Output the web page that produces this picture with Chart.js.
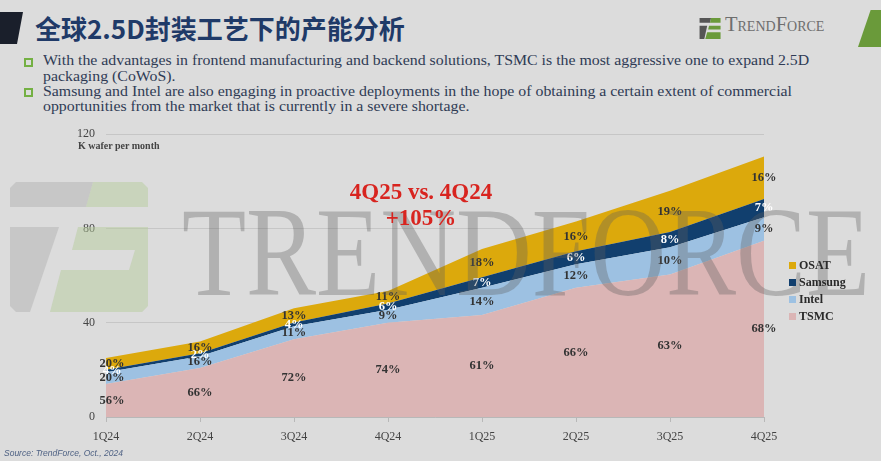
<!DOCTYPE html>
<html>
<head>
<meta charset="utf-8">
<script src="https://cdn.jsdelivr.net/npm/chart.js"></script>
<style>
html, body { margin: 0; padding: 0; }
body { width: 881px; height: 461px; background: #dcdcdc; position: relative; overflow: hidden; font-family: "Liberation Serif", serif; }
#bar { position: absolute; left: 0; top: 12px; width: 23px; height: 32px; background: #1a1f2b; clip-path: polygon(0 0, 100% 0, 74% 100%, 0 100%); }
#corner { position: absolute; left: 858px; top: 10px; width: 23px; height: 37px; background: #6a9a3a; clip-path: polygon(55% 0, 100% 0, 100% 100%, 0 100%); }
#title { position: absolute; left: 35px; top: 9px; font-family: "Noto Sans CJK SC", sans-serif; font-weight: bold; font-size: 26px; color: #1f3a68; line-height: 38px; white-space: nowrap; }
#logo { position: absolute; left: 699px; top: 18px; }
#logoText { position: absolute; left: 725px; top: 13px; font-size: 20.5px; color: #6e6e6e; font-variant: small-caps; white-space: nowrap; }
.bl { position: absolute; left: 24px; width: 5px; height: 5px; border: 2px solid #74b043; }
.bt { position: absolute; left: 43px; font-size: 14.3px; color: #2f3b55; line-height: 15.6px; white-space: nowrap; transform-origin: 0 0; }
#wrap { position: absolute; left: 0; top: 116px; width: 881px; height: 334px; }
#unit { position: absolute; left: 78px; top: 140px; font-size: 10px; color: #444; font-weight: bold; white-space: nowrap; }
#note { position: absolute; left: 300px; top: 179px; width: 242px; text-align: center; font-weight: bold; font-size: 23px; color: #d8241f; line-height: 26px; }
#legend { position: absolute; left: 789px; top: 258px; }
.lg { height: 17px; font-size: 12px; font-weight: bold; color: #2a2a2a; white-space: nowrap; }
.lg span { display: inline-block; width: 7px; height: 7px; margin-right: 3px; vertical-align: 0px; }
#source { position: absolute; left: 4px; top: 448px; font-family: "Liberation Sans", sans-serif; font-style: italic; font-size: 8.5px; color: #4f6284; white-space: nowrap; }
</style>
</head>
<body>
<div id="bar"></div>
<div id="corner"></div>
<div id="title">全球2.5D封装工艺下的产能分析</div>
<svg id="logo" width="24" height="21" viewBox="0 0 24 22">
  <polygon points="0,0 12,0 11,5 0,5" fill="#555"/>
  <polygon points="12,0 22,0 22,5 11,5" fill="#6a9a3a"/>
  <polygon points="0,8 8,8 5,22 0,22" fill="#555"/>
  <polygon points="10,8 22,8 22,12 9,12" fill="#6a9a3a"/>
  <polygon points="8,15 22,15 22,22 6,22" fill="#6a9a3a"/>
</svg>
<div id="logoText">TrendForce</div>
<div class="bl" style="top:58px"></div>
<div class="bt" style="top:53px">With the advantages in frontend manufacturing and backend solutions, TSMC is the most aggressive one to expand 2.5D</div>
<div class="bt" style="top:69px">packaging (CoWoS).</div>
<div class="bl" style="top:88px"></div>
<div class="bt" id="ref" style="top:84px">Samsung and Intel are also engaging in proactive deployments in the hope of obtaining a certain extent of commercial</div>
<div class="bt" style="top:99px">opportunities from the market that is currently in a severe shortage.</div>
<div id="wrap"><canvas id="c"></canvas></div>
<div id="unit">K wafer per month</div>
<div id="note">4Q25 vs. 4Q24<br>+105%</div>
<div id="legend"></div>
<div id="source">Source: TrendForce, Oct., 2024</div>
<script>
// K wafer per month
const quarters = ['1Q24', '2Q24', '3Q24', '4Q24', '1Q25', '2Q25', '3Q25', '4Q25'];
const tsmc    = [14, 20.8, 33, 40, 43.3, 54.8, 60.5, 74.8];
const intel   = [5, 5, 5.5, 5.5, 11.5, 10, 11.5, 10];
const samsung = [1, 1.2, 1.6, 2.7, 4.5, 5.5, 6.5, 7.7];
const osat    = [5, 5, 6, 5.3, 12, 12.7, 17.5, 18];
// share labels printed on the chart
const tsmcPct    = [56, 66, 72, 74, 61, 66, 63, 68];
const intelPct   = [20, 16, 11, 9, 14, 12, 10, 9];
const samsungPct = [4, 2, 4, 6, 7, 6, 8, 7];
const osatPct    = [20, 16, 13, 11, 18, 16, 19, 16];
const yTicks = [0, 40, 80, 120];

const series = [
	{ label: 'TSMC', data: tsmc, color: '#dbb5b5', pct: tsmcPct, txt: '#333' },
	{ label: 'Intel', data: intel, color: '#9dc1e2', pct: intelPct, txt: '#333' },
	{ label: 'Samsung', data: samsung, color: '#113f6e', pct: samsungPct, txt: '#ffffff' },
	{ label: 'OSAT', data: osat, color: '#dca90c', pct: osatPct, txt: '#333' }
];

// bullet text is set in a wider face in the slide: stretch to the same width
var k = (792 - 43) / document.getElementById('ref').getBoundingClientRect().width;
document.querySelectorAll('.bt').forEach(function(e){ e.style.transform = 'scaleX(' + k + ')'; });

// legend, top to bottom reversed
var lg = document.getElementById('legend');
series.slice().reverse().forEach(function(s){
	var d = document.createElement('div');
	d.className = 'lg';
	d.innerHTML = '<span style="background:' + s.color + '"></span>' + s.label;
	lg.appendChild(d);
});

var OFF = 116; // canvas top on the page

// big watermark + share labels
const overlay = {
	id: 'overlay',
	beforeDatasetsDraw(chart){
		var ctx = chart.ctx, top = -OFF;
		ctx.save();
		ctx.globalAlpha = 0.5;
		// left logo shape
		ctx.fillStyle = '#b2b2b2';
		ctx.beginPath();
		ctx.moveTo(16, top + 182); ctx.lineTo(93, top + 182); ctx.lineTo(86, top + 207); ctx.lineTo(10, top + 207); ctx.lineTo(10, top + 188);
		ctx.fill();
		ctx.beginPath();
		ctx.moveTo(10, top + 227); ctx.lineTo(59, top + 227); ctx.lineTo(30, top + 312); ctx.lineTo(16, top + 312); ctx.lineTo(10, top + 306);
		ctx.fill();
		ctx.fillStyle = '#b5cc9b';
		ctx.beginPath();
		ctx.moveTo(93, top + 182); ctx.lineTo(142, top + 182); ctx.lineTo(148, top + 188); ctx.lineTo(148, top + 207); ctx.lineTo(86, top + 207);
		ctx.fill();
		ctx.beginPath();
		ctx.moveTo(78, top + 227); ctx.lineTo(148, top + 227); ctx.lineTo(148, top + 306); ctx.lineTo(142, top + 312); ctx.lineTo(50, top + 312);
		ctx.lineTo(61, top + 270); ctx.lineTo(129, top + 270); ctx.lineTo(135, top + 250); ctx.lineTo(72, top + 250);
		ctx.closePath();
		ctx.fill();
		ctx.restore();
	},
	afterDatasetsDraw(chart){
		var ctx = chart.ctx, xs = chart.scales.x, ys = chart.scales.y;
		ctx.save();
		ctx.font = 'bold 12.5px "Liberation Serif", serif';
		ctx.textAlign = 'center';
		ctx.textBaseline = 'middle';
		for (var i = 0; i < quarters.length; i++){
			var base = 0;
			for (const s of series){
				var v = s.data[i];
				var x = xs.getPixelForValue(i);
				if (i === 0) x += 6;
				var y = ys.getPixelForValue(base + v / 2);
				ctx.fillStyle = s.txt;
				ctx.fillText(s.pct[i] + '%', x, y);
				base += v;
			}
		}
		// watermark text
		ctx.font = '128px "Liberation Serif", serif';
		ctx.textAlign = 'left';
		ctx.textBaseline = 'alphabetic';
		var w = ctx.measureText('TRENDFORCE').width;
		ctx.translate(182, 295 - OFF);
		ctx.scale(688 / w, 1);
		ctx.fillStyle = 'rgba(95,95,95,0.34)';
		ctx.fillText('TRENDFORCE', 0, 0);
		ctx.restore();
	}
};

new Chart(document.getElementById('c'), {
	type: 'line',
	data: {
		labels: quarters,
		datasets: series.map(function(s, k){
			return {
				label: s.label,
				data: s.data,
				backgroundColor: s.color,
				borderWidth: 0,
				pointRadius: 0,
				tension: 0,
				fill: k === 0 ? 'origin' : '-1'
			};
		})
	},
	options: {
		responsive: true,
		maintainAspectRatio: false,
		animation: false,
		layout: { padding: { top: 9, right: 117, left: 0, bottom: 0 } },
		plugins: { legend: { display: false }, tooltip: { enabled: false } },
		scales: {
			x: {
				offset: false,
				grid: { drawOnChartArea: false, drawTicks: true, tickLength: 5, color: '#b8b8b8' },
				border: { color: '#b8b8b8' },
				ticks: { padding: 8, color: '#444', font: { family: '"Liberation Serif", serif', size: 12 }, maxRotation: 0 },
				afterFit: function(s){ s.height = 33; }
			},
			y: {
				stacked: true,
				min: 0,
				max: 120,
				afterBuildTicks: function(s){ s.ticks = yTicks.map(function(v){ return { value: v }; }); },
				grid: { color: '#c6c6c6', drawTicks: false },
				border: { display: false },
				ticks: { padding: 11, color: '#444', font: { family: '"Liberation Serif", serif', size: 12 } },
				afterFit: function(s){ s.width = 106; }
			}
		}
	},
	plugins: [overlay]
});
</script>
</body>
</html>
